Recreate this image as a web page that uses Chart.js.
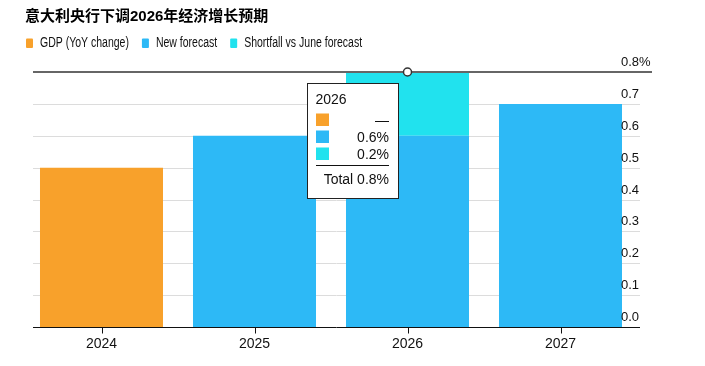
<!DOCTYPE html>
<html><head><meta charset="utf-8">
<script src="https://cdn.jsdelivr.net/npm/chart.js@4/dist/chart.umd.min.js"></script>
<style>html,body{margin:0;padding:0;background:#fff}#wrap{width:705px;height:366px}</style>
</head><body><div id="wrap"><canvas id="c" width="705" height="366"></canvas></div>
<script>
const titleText = '意大利央行下调2026年经济增长预期';
const categories = ['2024', '2025', '2026', '2027'];
const seriesNames = ['GDP (YoY change)', 'New forecast', 'Shortfall vs June forecast'];
const gdpValues = [0.5, null, null, null];
const newForecastValues = [null, 0.6, 0.6, 0.7];
const shortfallValues = [null, null, 0.2, null];
const yTickValues = [0, 0.1, 0.2, 0.3, 0.4, 0.5, 0.6, 0.7, 0.8];
const tooltipIndex = 2;

const colors = ['#F8A12B', '#2DB9F6', '#21E2EE'];
const FONT = "'Liberation Sans', Arial, 'Noto Sans CJK SC', sans-serif";
const LEGEND_SQUEEZE = 0.75;

function fmt(v) { return v == null ? '—' : v.toFixed(1) + '%'; }

const decor = {
  id: 'decor',
  beforeDatasetsDraw(chart) {
    const {ctx, chartArea: ca, scales: {y}} = chart;
    ctx.save();
    ctx.strokeStyle = '#dcdcdc'; ctx.lineWidth = 1;
    y.ticks.forEach(t => {
      if (t.value > 0.0001 && t.value < 0.7999) {
        const py = Math.round(y.getPixelForValue(t.value)) + 0.5;
        ctx.beginPath(); ctx.moveTo(ca.left + 8, py); ctx.lineTo(ca.right + 3, py); ctx.stroke();
      }
    });
    ctx.restore();
  },
  afterDatasetsDraw(chart) {
    const {ctx, chartArea: ca, scales: {x, y}} = chart;
    ctx.save();
    // baseline
    const by = Math.round(y.getPixelForValue(0)) + 0.5;
    ctx.strokeStyle = '#111'; ctx.lineWidth = 1;
    ctx.beginPath(); ctx.moveTo(ca.left + 8, by); ctx.lineTo(ca.right + 3, by); ctx.stroke();
    categories.forEach((c, i) => {
      const px = Math.round(x.getPixelForValue(i)) + 0.5;
      ctx.beginPath(); ctx.moveTo(px, by); ctx.lineTo(px, by + 6); ctx.stroke();
    });
    // top line
    const ty = y.getPixelForValue(yTickValues[yTickValues.length - 1]);
    ctx.strokeStyle = '#666'; ctx.lineWidth = 2;
    ctx.beginPath(); ctx.moveTo(ca.left + 8, ty); ctx.lineTo(ca.right + 15, ty); ctx.stroke();
    // y labels
    ctx.fillStyle = '#111'; ctx.font = '13px ' + FONT; ctx.textAlign = 'left'; ctx.textBaseline = 'alphabetic';
    y.ticks.forEach((t, i) => {
      const py = y.getPixelForValue(t.value);
      const last = i === y.ticks.length - 1;
      ctx.fillText(t.value.toFixed(1) + (last ? '%' : ''), ca.right - 16, py - 6);
    });
    // legend (condensed type)
    ctx.font = '14px ' + FONT;
    let lx = 26;
    chart.data.datasets.forEach(ds => {
      ctx.fillStyle = ds.backgroundColor;
      ctx.beginPath(); ctx.roundRect(lx, 38.5, 7, 9.5, 1); ctx.fill();
      ctx.fillStyle = '#111'; ctx.textBaseline = 'middle';
      ctx.save(); ctx.translate(lx + 14, 43.5); ctx.scale(LEGEND_SQUEEZE, 1);
      ctx.fillText(ds.label, 0, 0); ctx.restore();
      lx += 14 + ctx.measureText(ds.label).width * LEGEND_SQUEEZE + 13;
    });
    // hover marker + tooltip
    const xc = x.getPixelForValue(tooltipIndex);
    const vals = chart.data.datasets.map(ds => ds.data[tooltipIndex]);
    const total = vals.reduce((a, v) => a + (v || 0), 0);
    const yt = y.getPixelForValue(total);
    ctx.fillStyle = '#fff'; ctx.strokeStyle = '#333'; ctx.lineWidth = 1.5;
    ctx.beginPath(); ctx.arc(xc, yt, 4, 0, Math.PI * 2); ctx.fill(); ctx.stroke();
    const bx = Math.round(xc - 101) + 0.5, bt = Math.round(yt + 11) + 0.5, bw = 91, bh = 115;
    ctx.fillStyle = '#fff'; ctx.strokeStyle = '#222'; ctx.lineWidth = 1;
    ctx.fillRect(bx, bt, bw, bh); ctx.strokeRect(bx, bt, bw, bh);
    ctx.fillStyle = '#111'; ctx.font = '14px ' + FONT; ctx.textBaseline = 'alphabetic'; ctx.textAlign = 'left';
    ctx.fillText(categories[tooltipIndex], bx + 8, bt + 20);
    vals.forEach((v, i) => {
      const ry = bt + 30 + i * 17;
      ctx.fillStyle = chart.data.datasets[i].backgroundColor;
      ctx.fillRect(bx + 8.5, ry, 13, 12.5);
      ctx.fillStyle = '#111'; ctx.textAlign = 'right';
      ctx.fillText(fmt(v), bx + 81.5, ry + 11);
    });
    ctx.strokeStyle = '#111'; ctx.beginPath(); ctx.moveTo(bx + 8.5, bt + 82); ctx.lineTo(bx + 81.5, bt + 82); ctx.stroke();
    ctx.textAlign = 'right';
    ctx.fillText('Total ' + fmt(total), bx + 81.5, bt + 100);
    ctx.restore();
  }
};

new Chart(document.getElementById('c'), {
  type: 'bar',
  data: {
    labels: categories,
    datasets: [
      {label: seriesNames[0], data: gdpValues, backgroundColor: colors[0]},
      {label: seriesNames[1], data: newForecastValues, backgroundColor: colors[1]},
      {label: seriesNames[2], data: shortfallValues, backgroundColor: colors[2]}
    ]
  },
  options: {
    responsive: false, animation: false, devicePixelRatio: 1,
    layout: {padding: {left: 25, right: 68, top: 0, bottom: 12.2}},
    datasets: {bar: {categoryPercentage: 1, barPercentage: 0.804}},
    plugins: {
      legend: {display: false},
      tooltip: {enabled: false},
      title: {display: true, text: titleText, align: 'start', color: '#000',
        font: {family: FONT, size: 15, weight: 'bold'}, padding: {top: 8, bottom: 46}}
    },
    scales: {
      x: {stacked: true, grid: {display: false, drawTicks: true, tickLength: 8}, border: {display: false},
        ticks: {color: '#111', font: {family: FONT, size: 14}, padding: 1}},
      y: {stacked: true, display: false, min: 0, max: 0.8,
        afterBuildTicks: s => { s.ticks = yTickValues.map(v => ({value: v})); }}
    }
  },
  plugins: [decor]
});
</script></body></html>
